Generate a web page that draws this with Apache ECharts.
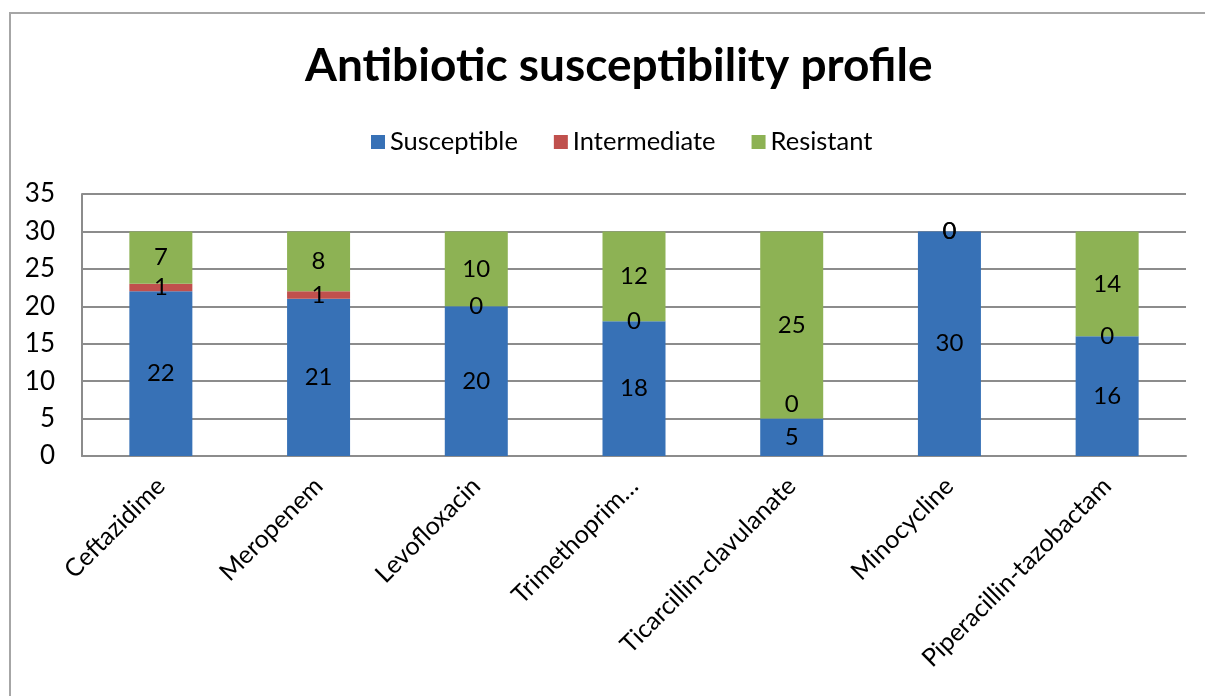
<!DOCTYPE html>
<html>
<head>
<meta charset="utf-8">
<script src="https://cdn.jsdelivr.net/npm/echarts@6/dist/echarts.min.js"></script>
<style>
  html, body { margin: 0; padding: 0; background: #fff; }
  #chart { width: 1205px; height: 696px; }
</style>
</head>
<body>
<div id="chart"></div>
<script>
// data
const drugs = ['Ceftazidime', 'Meropenem', 'Levofloxacin', 'Trimethoprim…',
  'Ticarcillin-clavulanate', 'Minocycline', 'Piperacillin-tazobactam'];
const susceptible = [22, 21, 20, 18, 5, 30, 16];
const intermediate = [1, 1, 0, 0, 0, 0, 0];
const resistant = [7, 8, 10, 12, 25, 0, 14];
const yTicks = [0, 5, 10, 15, 20, 25, 30, 35];

const font = 'Lato, "Open Sans", sans-serif';

const chart = echarts.init(document.getElementById('chart'));

// one stacked bar series per category of result
function barSeries(name, data, color) {
  return {
    name: name,
    type: 'bar',
    stack: 'total',
    data: data,
    barWidth: 63,
    itemStyle: { color: color },
    label: {
      show: true,
      position: 'inside',
      color: '#000',
      fontSize: 24,
      fontFamily: font
    }
  };
}

// the zero "Intermediate" label sits a bit higher where the blue part is short
const intermediateData = intermediate.map(function (v, i) {
  if (susceptible[i] < 8 && v === 0) {
    return { value: v, label: { offset: [0, -14] } };
  }
  return v;
});

chart.setOption({
  animation: false,
  title: {
    text: 'Antibiotic susceptibility profile',
    left: 300,
    top: 38,
    textStyle: { fontSize: 46, fontWeight: 'bold', color: '#000', fontFamily: font }
  },
  legend: {
    top: 124,
    left: 366,
    itemWidth: 14,
    itemHeight: 14,
    itemGap: 36,
    icon: 'rect',
    textStyle: { fontSize: 25.5, color: '#000', fontFamily: font }
  },
  grid: { left: 82, right: 19, top: 194, bottom: 240, containLabel: false },
  // outer chart frame
  graphic: [{
    type: 'rect',
    shape: { x: 10, y: 13, width: 1210, height: 700 },
    style: { fill: 'none', stroke: '#a6a6a6', lineWidth: 2 },
    silent: true
  }],
  xAxis: {
    type: 'category',
    data: drugs,
    axisLine: { lineStyle: { color: '#8c8c8c', width: 2 } },
    axisTick: { show: false },
    axisLabel: { rotate: 45, fontSize: 25, color: '#000', fontFamily: font, margin: 26, interval: 0 }
  },
  yAxis: {
    type: 'value',
    min: yTicks[0],
    max: yTicks[yTicks.length - 1],
    interval: 5,
    axisLine: { show: true, lineStyle: { color: '#8c8c8c', width: 2 } },
    axisTick: { show: false },
    axisLabel: { fontSize: 26, color: '#000', fontFamily: font, margin: 27 },
    splitLine: { lineStyle: { color: '#8c8c8c', width: 2 } }
  },
  series: [
    barSeries('Susceptible', susceptible, '#3771b6'),
    barSeries('Intermediate', intermediateData, '#c0504d'),
    barSeries('Resistant', resistant, '#8db254')
  ]
});
</script>
</body>
</html>
